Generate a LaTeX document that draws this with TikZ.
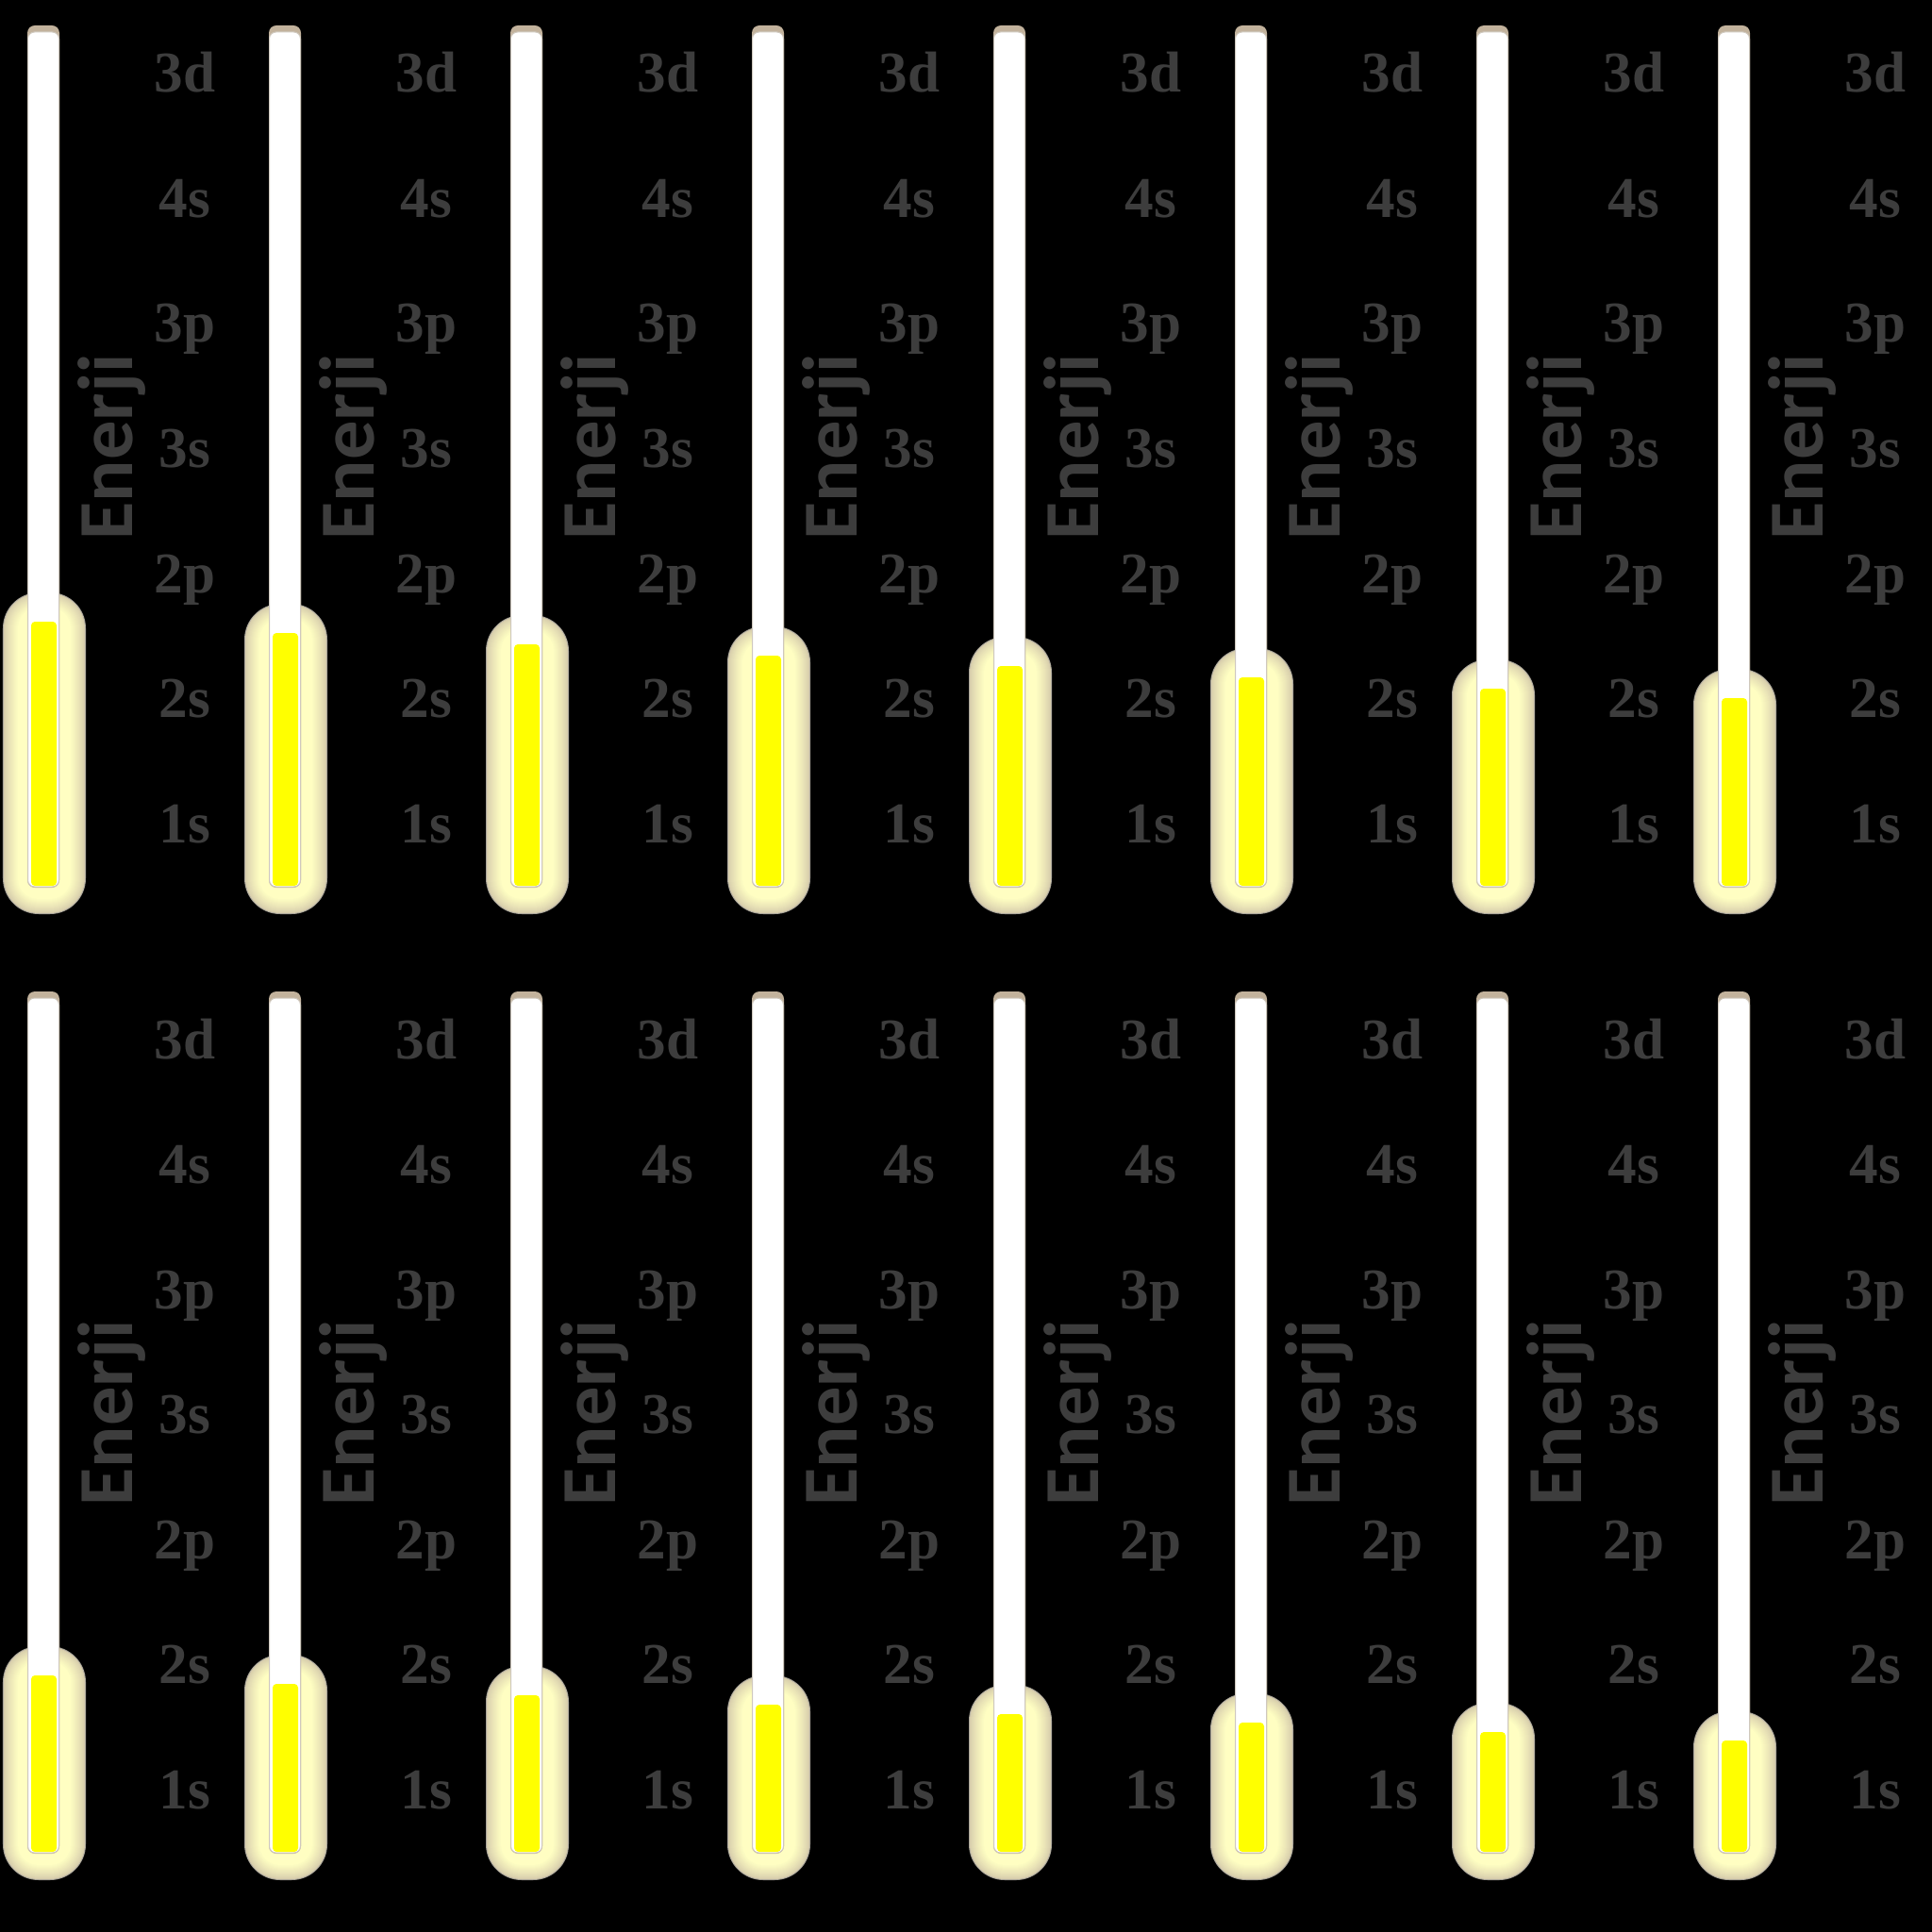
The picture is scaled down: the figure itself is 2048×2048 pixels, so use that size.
\documentclass[tikz,border=0pt]{standalone}
\usepackage{fontspec}
\usepackage{tikz}
\usetikzlibrary{positioning}
\newfontfamily\orbfont{Liberation Serif}
\newfontfamily\enfont{Carlito}
\definecolor{lblgray}{HTML}{3D3D3D}
\definecolor{tubecap}{HTML}{C2B29C}
\definecolor{tubeedge}{HTML}{CFC8BE}
\definecolor{glowedge}{HTML}{A9A59A}
\definecolor{glowout}{HTML}{D6CCAC}
\definecolor{glowin}{HTML}{FFFEC2}

\definecolor{barfill}{HTML}{FFFF00}

\begin{document}
\begin{tikzpicture}[
    x=0.1mm,y=-0.1mm,
    orbital/.style={font=\orbfont\bfseries\fontsize{17.4pt}{18pt}\selectfont,text=lblgray,anchor=base,inner sep=0pt},
    enerji/.style={font=\enfont\bfseries\fontsize{23.5pt}{25pt}\selectfont,text=lblgray,rotate=90,anchor=base,inner sep=0pt},
    tube/.style={fill=white,draw=tubeedge,line width=0.1mm,rounded corners=0.7mm},
    bar/.style={fill=barfill,rounded corners=0.4mm}
]
\fill[black] (0,0) rectangle (2048,2048);

% one panel per fill level, 8 per row
\foreach \lev [count=\i from 0] in {659,671,683,695,706,718,730,740,752,761,773,783,793,802,812,821} {
  \pgfmathsetmacro\ox{256*mod(\i,8)}
  \pgfmathsetmacro\oy{1024*int(\i/8)}
  % glow round the lit part
  \fill[glowedge,rounded corners=3.8mm] (\ox+3,\oy+\lev-31) rectangle (\ox+91,\oy+969);
  \foreach \d in {1,...,16} {
    \pgfmathsetmacro\ins{1.0*\d}
    \pgfmathsetmacro\rr{(38-\ins)/10}
    \pgfmathsetmacro\mix{int(100*((\d-1)/15)^0.8)}
    \fill[glowin!\mix!glowout,rounded corners=\rr mm] (\ox+3+\ins,\oy+\lev-31+\ins) rectangle (\ox+91-\ins,\oy+969-\ins);
  }
  % tube and bar
  \fill[tubecap,rounded corners=0.8mm] (\ox+29,\oy+27) rectangle (\ox+63,\oy+941);
  \draw[tube] (\ox+29.5,\oy+34) rectangle (\ox+62.5,\oy+940);
  \fill[bar] (\ox+33,\oy+\lev) rectangle (\ox+60,\oy+939);
  % labels
  \node[enerji] (en-\i) at (\ox+140,\oy+474) {Enerji};
  \foreach \name [count=\k from 0] in {3d,4s,3p,3s,2p,2s,1s}
    \node[orbital] (lbl-\i-\name) at (\ox+196,\oy+98+132.5*\k) {\name};
}
\end{tikzpicture}
\end{document}
